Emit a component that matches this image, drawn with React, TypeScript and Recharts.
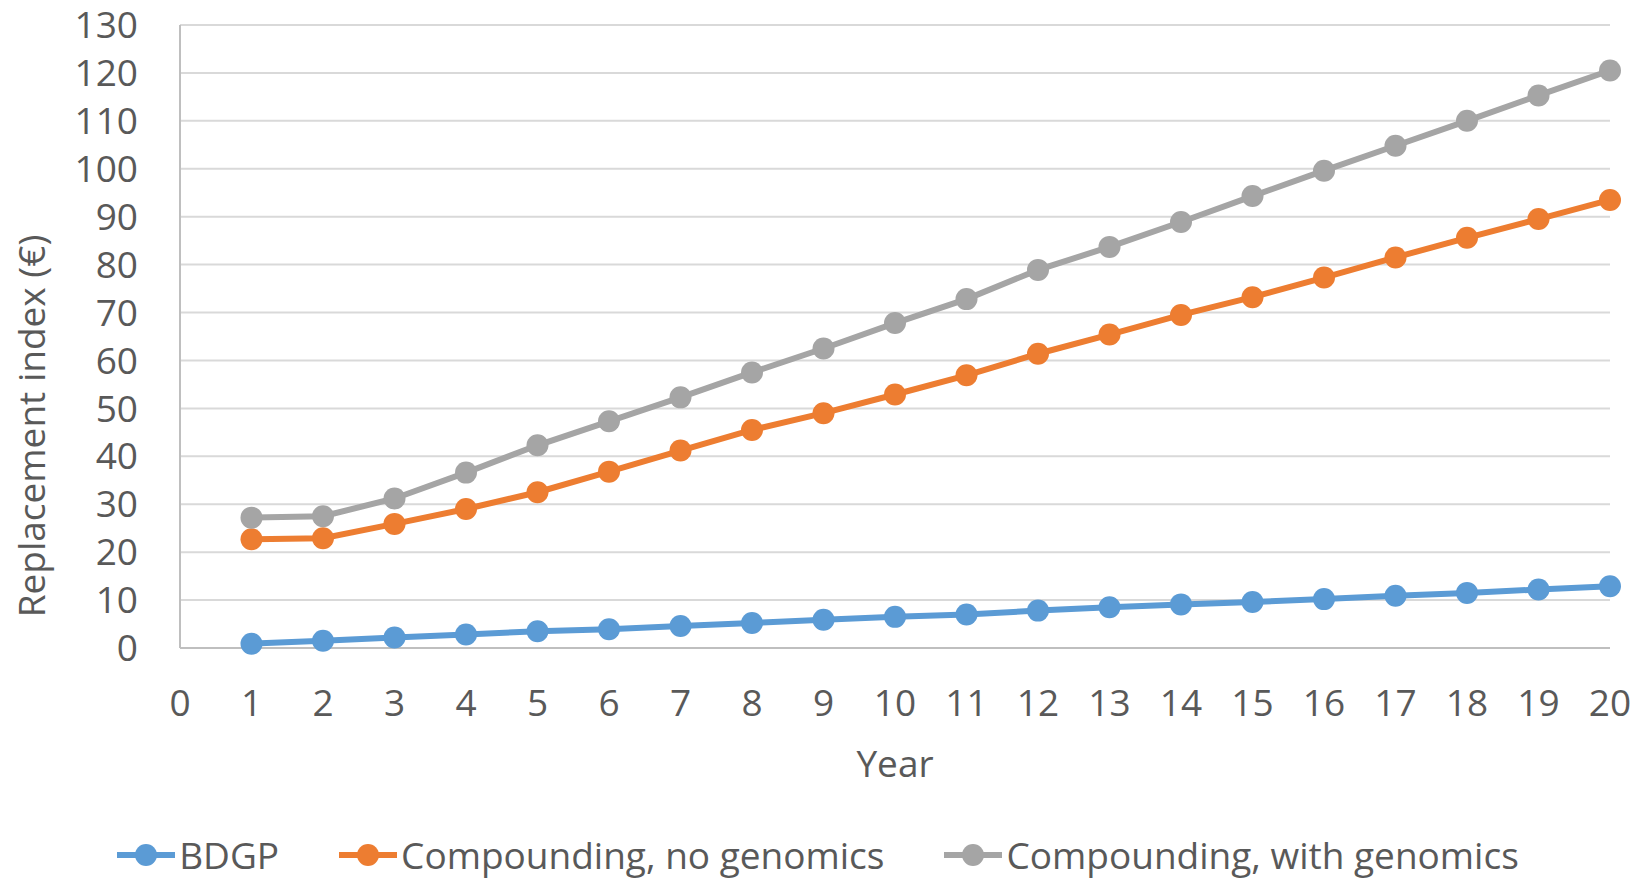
import { LineChart, Line, XAxis, YAxis, CartesianGrid, Legend } from 'recharts';

const years = [1, 2, 3, 4, 5, 6, 7, 8, 9, 10, 11, 12, 13, 14, 15, 16, 17, 18, 19, 20];
const bdgp = [0.9, 1.5, 2.2, 2.8, 3.5, 3.9, 4.6, 5.2, 5.9, 6.5, 7.0, 7.8, 8.5, 9.1, 9.6, 10.2, 10.9, 11.5, 12.2, 12.9];
const noGenomics = [22.7, 22.9, 25.9, 29.0, 32.5, 36.8, 41.2, 45.5, 49.0, 52.9, 56.9, 61.4, 65.4, 69.5, 73.2, 77.3, 81.5, 85.6, 89.5, 93.5];
const withGenomics = [27.2, 27.5, 31.2, 36.6, 42.3, 47.3, 52.3, 57.5, 62.5, 67.8, 72.8, 78.9, 83.7, 88.9, 94.3, 99.6, 104.8, 110.0, 115.3, 120.5];
const xTicks = [0, 1, 2, 3, 4, 5, 6, 7, 8, 9, 10, 11, 12, 13, 14, 15, 16, 17, 18, 19, 20];
const yTicks = [0, 10, 20, 30, 40, 50, 60, 70, 80, 90, 100, 110, 120, 130];

const series = [
  { key: 'bdgp', name: 'BDGP', color: '#5B9BD5' },
  { key: 'noGen', name: 'Compounding, no genomics', color: '#ED7D31' },
  { key: 'withGen', name: 'Compounding, with genomics', color: '#A5A5A5' },
];

const data = years.map((y, i) => ({
  year: y,
  bdgp: bdgp[i],
  noGen: noGenomics[i],
  withGen: withGenomics[i],
}));

const FONT = '"Open Sans", sans-serif';
const TEXT = '#595959';
const FS = 37;

function LegendContent() {
  return (
    <div style={{ display: 'flex', justifyContent: 'center', alignItems: 'center', gap: 60, fontFamily: FONT, fontSize: FS, color: TEXT }}>
      {series.map((s) => (
        <div key={s.key} style={{ display: 'flex', alignItems: 'center' }}>
          <svg width={58} height={26} style={{ marginRight: 4 }}>
            <line x1={0} y1={13} x2={58} y2={13} stroke={s.color} strokeWidth={6} />
            <circle cx={29} cy={13} r={11} fill={s.color} />
          </svg>
          <span>{s.name}</span>
        </div>
      ))}
    </div>
  );
}

export default function App() {
  return (
    <div style={{ position: 'absolute', left: 0, top: 0, width: 1636, height: 878, background: '#fff', fontFamily: FONT }}>
      <LineChart width={1636} height={878} data={data} margin={{ top: 25, right: 26, left: 0, bottom: 100 }}>
        <CartesianGrid vertical={false} stroke="#D9D9D9" strokeWidth={2} />
        <XAxis
          dataKey="year"
          type="number"
          domain={[0, 20]}
          ticks={xTicks}
          interval={0}
          height={130}
          tickLine={false}
          tickSize={0}
          tickMargin={42}
          axisLine={{ stroke: '#BFBFBF', strokeWidth: 2 }}
          tick={{ fill: TEXT, fontSize: FS, fontFamily: FONT }}
          label={{ value: 'Year', position: 'insideBottom', offset: 1, fill: TEXT, fontSize: FS, fontFamily: FONT }}
        />
        <YAxis
          type="number"
          domain={[0, 130]}
          ticks={yTicks}
          interval={0}
          width={180}
          tickLine={false}
          tickSize={0}
          tickMargin={42}
          axisLine={{ stroke: '#BFBFBF', strokeWidth: 2 }}
          tick={{ fill: TEXT, fontSize: FS, fontFamily: FONT }}
          label={() => (
            <text
              x={30}
              y={426}
              transform="rotate(-90, 30, 426)"
              textAnchor="middle"
              dominantBaseline="central"
              fill={TEXT}
              fontSize={FS}
              fontFamily={FONT}
            >
              Replacement index (€)
            </text>
          )}
        />
        <Legend
          layout="horizontal"
          verticalAlign="middle"
          align="center"
          content={<LegendContent />}
          wrapperStyle={{ top: 829, left: 0, width: 1636 }}
        />
        {series.map((s) => (
          <Line
            key={s.key}
            dataKey={s.key}
            name={s.name}
            stroke={s.color}
            strokeWidth={6}
            dot={{ r: 11, fill: s.color, stroke: s.color, strokeWidth: 0 }}
            activeDot={false}
            isAnimationActive={false}
          />
        ))}
      </LineChart>
    </div>
  );
}
